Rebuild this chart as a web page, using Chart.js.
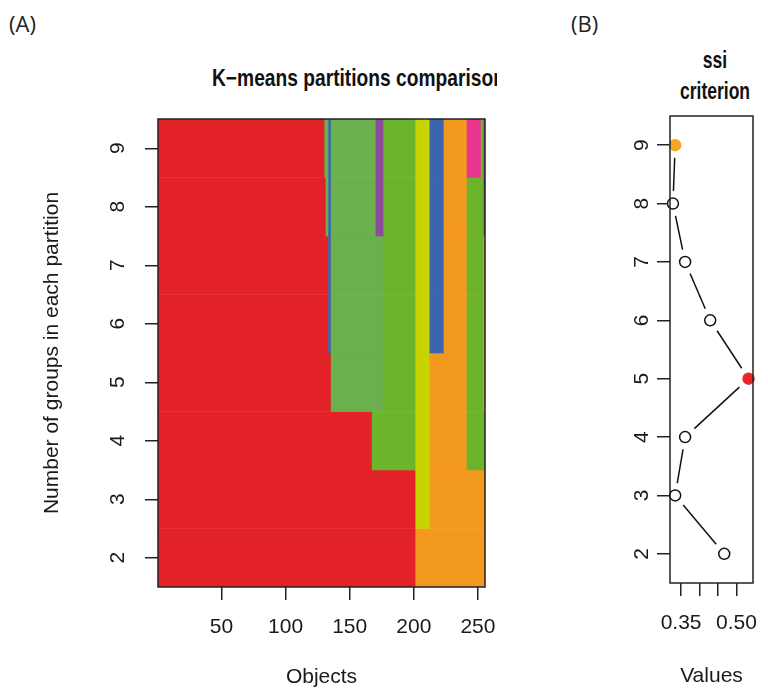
<!DOCTYPE html>
<html>
<head>
<meta charset="utf-8">
<script src="https://cdn.jsdelivr.net/npm/chart.js@4.4.0/dist/chart.umd.min.js"></script>
<style>
  body { margin: 0; background: #fff; }
  #wrap { position: relative; width: 768px; height: 692px; overflow: hidden; }
  .panel { position: absolute; font-family: "Open Sans", sans-serif; font-size: 22px; color: #222; }
  .title { position: absolute; font-family: "Liberation Sans", Arial, sans-serif; font-weight: bold; font-size: 24px; color: #111; white-space: nowrap; }
  .squeeze { display: inline-block; transform-origin: left top; }
  canvas { position: absolute; top: 0; }
</style>
</head>
<body>
<div id="wrap">
  <div class="panel" style="left:9px; top:8px">(A)</div>
  <div class="panel" style="left:571px; top:8px">(B)</div>
  <div class="title" style="left:212px; top:64px; width:285px; overflow:hidden"><span class="squeeze" style="transform:scaleX(0.8)">K−means partitions comparison</span></div>
  <div class="title" style="left:665px; top:44px; width:100px; text-align:center; line-height:31px"><span style="display:inline-block; transform:scaleX(0.73)">ssi<br>criterion</span></div>
  <canvas id="partitions" width="560" height="692" style="left:0"></canvas>
  <canvas id="ssi" width="208" height="692" style="left:560px"></canvas>
</div>
<script>
const groupCounts = [2, 3, 4, 5, 6, 7, 8, 9]
const objectTicks = [50, 100, 150, 200, 250]
const clusterColors = ['#E32227', '#F4991F', '#C8D400', '#6BB42C', '#6AB04C', '#3A65AF', '#8A4B9B', '#E8358E']

// runs of objects in each partition: [first object, last object, cluster colour]
const runsK2 = [[1, 201, 0], [202, 255, 1]]
const runsK3 = [[1, 201, 0], [202, 212, 2], [213, 255, 1]]
const runsK4 = [[1, 167, 0], [168, 201, 3], [202, 212, 2], [213, 241, 1], [242, 255, 3]]
const runsK5 = [[1, 135, 0], [136, 176, 4], [177, 201, 3], [202, 212, 2], [213, 241, 1], [242, 254, 3], [255, 255, 1]]
const runsK6 = [[1, 133, 0], [134, 135, 5], [136, 176, 4], [177, 201, 3], [202, 212, 2], [213, 223, 5], [224, 241, 1], [242, 254, 3], [255, 255, 1]]
const runsK7 = [[1, 133, 0], [134, 135, 5], [136, 176, 4], [177, 201, 3], [202, 212, 2], [213, 223, 5], [224, 241, 1], [242, 254, 3], [255, 255, 1]]
const runsK8 = [[1, 131, 0], [132, 133, 4], [134, 135, 5], [136, 170, 4], [171, 176, 6], [177, 201, 3], [202, 212, 2], [213, 223, 5], [224, 241, 1], [242, 254, 3], [255, 255, 6]]
const runsK9 = [[1, 130, 0], [131, 133, 4], [134, 135, 5], [136, 170, 4], [171, 176, 6], [177, 201, 3], [202, 212, 2], [213, 223, 5], [224, 241, 1], [242, 252, 7], [253, 254, 3], [255, 255, 6]]
const allRuns = [runsK2, runsK3, runsK4, runsK5, runsK6, runsK7, runsK8, runsK9]

const ssiGroups = [2, 3, 4, 5, 6, 7, 8, 9]
const ssiValues = [0.467, 0.334, 0.361, 0.533, 0.429, 0.361, 0.328, 0.334]
const ssiTicks = [0.35, 0.40, 0.45, 0.50]
const ssiTickLabels = ['0.35', '', '', '0.50']
const bestK = 5
const secondK = 9

Chart.defaults.font.family = '"Liberation Sans", Arial, sans-serif'
Chart.defaults.font.size = 21
Chart.defaults.color = '#1a1a1a'

const frameBox = {
    id: 'frameBox',
    afterDatasetsDraw(chart) {
        const { ctx, chartArea: a } = chart
        ctx.save()
        ctx.strokeStyle = '#222'
        ctx.lineWidth = 1.5
        ctx.strokeRect(a.left, a.top, a.right - a.left, a.bottom - a.top)
        ctx.restore()
    }
}

const axisTicks = { drawOnChartArea: false, drawTicks: true, tickLength: 13, color: '#222', lineWidth: 1.5, offset: false }

// keep the plot box where it is, labels may hang over its ends
function fixHeight(h) {
    return axis => { axis.height = h; axis.paddingLeft = 0; axis.paddingRight = 0 }
}

// one floating bar per run of objects
const barData = []
const barColors = []
allRuns.forEach((runs, i) => {
    runs.forEach(run => {
        barData.push({ x: [run[0] - 0.5, run[1] + 0.5], y: groupCounts[i] })
        barColors.push(clusterColors[run[2]])
    })
})

new Chart(document.getElementById('partitions'), {
    type: 'bar',
    data: {
        datasets: [{
            data: barData,
            backgroundColor: barColors,
            borderWidth: 0,
            barPercentage: 1,
            categoryPercentage: 1
        }]
    },
    options: {
        indexAxis: 'y',
        responsive: false,
        animation: false,
        layout: { padding: { top: 119, right: 75, left: 0, bottom: 0 } },
        plugins: { legend: { display: false }, tooltip: { enabled: false } },
        scales: {
            x: {
                type: 'linear',
                min: 0.5,
                max: 255.5,
                grid: axisTicks,
                border: { display: false },
                afterBuildTicks: axis => { axis.ticks = objectTicks.map(v => ({ value: v })) },
                afterFit: fixHeight(105),
                ticks: { padding: 15, maxRotation: 0 },
                title: { display: true, text: 'Objects', padding: { top: 0, bottom: 2 } }
            },
            y: {
                type: 'linear',
                min: 1.5,
                max: 9.5,
                offset: false,
                grid: axisTicks,
                border: { display: false },
                afterBuildTicks: axis => { axis.ticks = groupCounts.map(v => ({ value: v })) },
                afterFit: axis => { axis.width = 158 },
                ticks: { padding: 21, minRotation: 90, maxRotation: 90, crossAlign: 'center' },
                title: { display: true, text: 'Number of groups in each partition', padding: { top: 40, bottom: 0 } }
            }
        }
    },
    plugins: [frameBox]
})

// R style "b" lines: segments stop short of each point
const gapLines = {
    id: 'gapLines',
    beforeDatasetsDraw(chart) {
        const pts = chart.getDatasetMeta(0).data
        const ctx = chart.ctx
        const gap = 12.5
        ctx.save()
        ctx.strokeStyle = '#111'
        ctx.lineWidth = 1.5
        for (let i = 0; i < pts.length - 1; i++) {
            const a = pts[i], b = pts[i + 1]
            const dx = b.x - a.x, dy = b.y - a.y
            const d = Math.hypot(dx, dy)
            if (d <= 2 * gap) continue
            ctx.beginPath()
            ctx.moveTo(a.x + dx * gap / d, a.y + dy * gap / d)
            ctx.lineTo(b.x - dx * gap / d, b.y - dy * gap / d)
            ctx.stroke()
        }
        ctx.restore()
    }
}

const pointFill = ssiGroups.map(k => k === bestK ? '#E8262B' : k === secondK ? '#F5A623' : '#fff')
const pointEdge = ssiGroups.map(k => k === bestK ? '#E8262B' : k === secondK ? '#F5A623' : '#111')

new Chart(document.getElementById('ssi'), {
    type: 'scatter',
    data: {
        datasets: [{
            data: ssiGroups.map((k, i) => ({ x: ssiValues[i], y: k })),
            showLine: false,
            pointRadius: 5.5,
            pointBorderWidth: 1.5,
            pointBackgroundColor: pointFill,
            pointBorderColor: pointEdge,
            clip: false
        }]
    },
    options: {
        responsive: false,
        animation: false,
        layout: { padding: { top: 116, right: 15, left: 0, bottom: 0 } },
        plugins: { legend: { display: false }, tooltip: { enabled: false } },
        scales: {
            x: {
                type: 'linear',
                min: 0.32,
                max: 0.545,
                grid: axisTicks,
                border: { display: false },
                afterBuildTicks: axis => { axis.ticks = ssiTicks.map(v => ({ value: v })) },
                afterFit: fixHeight(109),
                ticks: { padding: 15, maxRotation: 0, autoSkip: false, callback: (v, i) => ssiTickLabels[i] },
                title: { display: true, text: 'Values', padding: { top: 0, bottom: 3 } }
            },
            y: {
                type: 'linear',
                min: 1.5,
                max: 9.5,
                grid: axisTicks,
                border: { display: false },
                afterBuildTicks: axis => { axis.ticks = ssiGroups.map(v => ({ value: v })) },
                afterFit: axis => { axis.width = 110 },
                ticks: { padding: 9, minRotation: 90, maxRotation: 90, crossAlign: 'center' }
            }
        }
    },
    plugins: [gapLines, frameBox]
})
</script>
</body>
</html>
